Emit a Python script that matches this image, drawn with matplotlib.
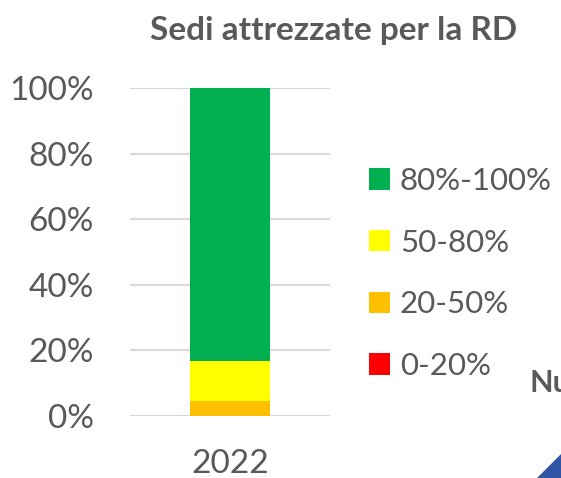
import matplotlib.pyplot as plt
from matplotlib.patches import Polygon

# data
years = ["2022"]
labels = ["0-20%", "20-50%", "50-80%", "80%-100%"]
values = [0.0, 4.6, 12.2, 83.2]
colors = ["#ff0000", "#ffc000", "#ffff00", "#00b050"]
yticks = [0, 20, 40, 60, 80, 100]

grey = "#595959"
plt.rcParams['font.family'] = ['Lato', 'DejaVu Sans']

fig = plt.figure(figsize=(5.61, 4.78), dpi=100)
ax = fig.add_axes([0.232, 0.1297, 0.356, 0.6863])

bottom = 0
handles = []
for lab, v, c in zip(labels, values, colors):
    h = ax.bar(years, [v], bottom=bottom, width=0.4, color=c, label=lab, zorder=3)
    handles.append(h)
    bottom += v

ax.set_xlim(-0.5, 0.5)
ax.set_ylim(0, 100)
ax.set_yticks(yticks)
ax.set_yticklabels([f"{t}%" for t in yticks])
ax.tick_params(axis='both', length=0, labelsize=24, labelcolor=grey)
ax.tick_params(axis='y', pad=26)
ax.tick_params(axis='x', pad=24)
ax.grid(axis='y', color="#d9d9d9", linewidth=1.5, zorder=0)
for s in ax.spines.values():
    s.set_visible(False)

fig.text(0.594, 0.937, "Sedi attrezzate per la RD", ha='center', va='center',
         fontsize=24, fontweight='bold', color=grey)

leg = fig.legend(handles[::-1], labels[::-1], loc='center left',
                 bbox_to_anchor=(0.658, 0.428), frameon=False, fontsize=22.5,
                 labelcolor=grey, handlelength=0.68, handleheight=0.68,
                 handletextpad=0.3, labelspacing=1.08, borderpad=0,
                 borderaxespad=0)

# fragment of the neighbouring chart
fig.text(0.944, 0.199, "Nu", ha='left', va='center', fontsize=22,
         fontweight='bold', color=grey)
fig.patches.append(Polygon([[0.958, 0.0], [1.0, 0.0], [1.0, 0.05]],
                           closed=True, transform=fig.transFigure,
                           color="#2f55a4"))

fig.savefig("out.png", dpi=100)
